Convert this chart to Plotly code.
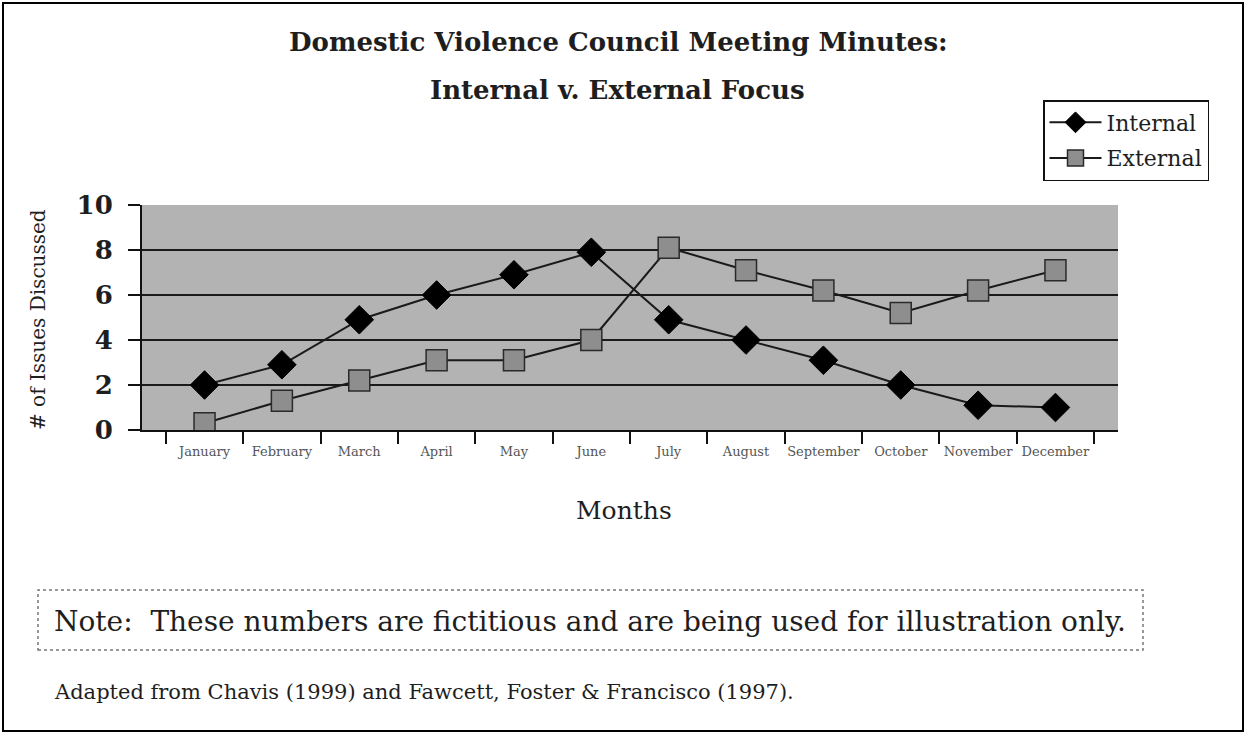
import plotly.graph_objects as go

W, H = 1247, 734

months = ["January", "February", "March", "April", "May", "June", "July",
          "August", "September", "October", "November", "December"]
internal = [2, 2.9, 4.9, 6, 6.9, 7.9, 4.9, 4, 3.1, 2, 1.1, 1]
external = [0.3, 1.3, 2.2, 3.1, 3.1, 4, 8.1, 7.1, 6.2, 5.2, 6.2, 7.1]
y_ticks = [0, 2, 4, 6, 8, 10]

title_lines = ["Domestic Violence Council Meeting Minutes:", "Internal v. External Focus"]
note_text = "Note:  These numbers are fictitious and are being used for illustration only."
source_text = "Adapted from Chavis (1999) and Fawcett, Foster & Francisco (1997)."

SERIF = "DejaVu Serif"
TXT = "#1e1e1e"

def px(x):
    return x / W

def py(y):
    return 1 - y / H

fig = go.Figure()
fig.add_trace(go.Scatter(
    x=months, y=internal, name="Internal", mode="lines+markers",
    line=dict(color="#1a1a1a", width=2),
    marker=dict(symbol="diamond", size=22, color="#000000",
                line=dict(color="#000000", width=1)),
    legendgroup="a",
))
fig.add_trace(go.Scatter(
    x=months, y=external, name="External", mode="lines+markers",
    line=dict(color="#1a1a1a", width=2),
    marker=dict(symbol="square", size=21, color="#8e8e8e",
                line=dict(color="#2a2a2a", width=1.5)),
    legendgroup="b",
))

annotations = [
    dict(text=f"<b>{title_lines[0]}</b>", x=px(618), y=py(42), xref="paper", yref="paper",
         showarrow=False, font=dict(family=SERIF, size=26, color=TXT), xanchor="center", yanchor="middle"),
    dict(text=f"<b>{title_lines[1]}</b>", x=px(617), y=py(90), xref="paper", yref="paper",
         showarrow=False, font=dict(family=SERIF, size=26, color=TXT), xanchor="center", yanchor="middle"),
    dict(text="# of Issues Discussed", x=px(38), y=py(320), xref="paper", yref="paper",
         showarrow=False, textangle=-90, font=dict(family=SERIF, size=20, color=TXT),
         xanchor="center", yanchor="middle"),
    dict(text="Months", x=px(624), y=py(510), xref="paper", yref="paper",
         showarrow=False, font=dict(family=SERIF, size=25, color=TXT),
         xanchor="center", yanchor="middle"),
    dict(text=note_text, x=px(52), y=py(621), xref="paper", yref="paper",
         showarrow=False, font=dict(family=SERIF, size=28, color=TXT),
         xanchor="left", yanchor="middle"),
    dict(text=source_text, x=px(52), y=py(692), xref="paper", yref="paper",
         showarrow=False, font=dict(family=SERIF, size=21, color=TXT),
         xanchor="left", yanchor="middle"),
]

shapes = [
    dict(type="rect", xref="paper", yref="paper", x0=px(3), x1=px(1243), y0=py(731), y1=py(3),
         line=dict(color="#000000", width=2)),
    dict(type="rect", xref="paper", yref="paper", x0=px(38), x1=px(1143), y0=py(650), y1=py(590),
         line=dict(color="#777777", width=1.5, dash="dot")),
]

fig.update_layout(
    width=W, height=H,
    margin=dict(l=0, r=0, t=0, b=0, pad=0, autoexpand=False),
    paper_bgcolor="white",
    plot_bgcolor="#b3b3b3",
    font=dict(family=SERIF, color=TXT),
    showlegend=True,
    legend=dict(x=px(1043), y=py(100), xanchor="left", yanchor="top",
                bordercolor="#111111", borderwidth=1.5, bgcolor="white",
                font=dict(family=SERIF, size=22, color=TXT),
                tracegroupgap=4, itemwidth=52),
    annotations=annotations,
    shapes=shapes,
    xaxis=dict(domain=[px(142), px(1118)], type="category", automargin=False,
               tickson="boundaries", ticks="outside", ticklen=12, tickcolor="#111111", tickwidth=1.5,
               ticklabelstandoff=8,
               showgrid=False, showline=True, linecolor="#111111", linewidth=2,
               tickfont=dict(family=SERIF, size=13, color="#555555"), tickangle=0),
    yaxis=dict(domain=[py(430), py(205)], range=[0, 10], tickvals=y_ticks, automargin=False,
               ticks="outside", ticklen=12, tickcolor="#111111", tickwidth=1.5,
               ticklabelstandoff=10,
               showgrid=True, gridcolor="#1a1a1a", gridwidth=2,
               showline=True, linecolor="#111111", linewidth=2, zeroline=False,
               tickfont=dict(family=SERIF, size=26, color=TXT, weight="bold")),
)

fig.write_html("out.html", config={"displayModeBar": False},
               post_script="document.body.style.margin='0';document.body.style.padding='0';")
